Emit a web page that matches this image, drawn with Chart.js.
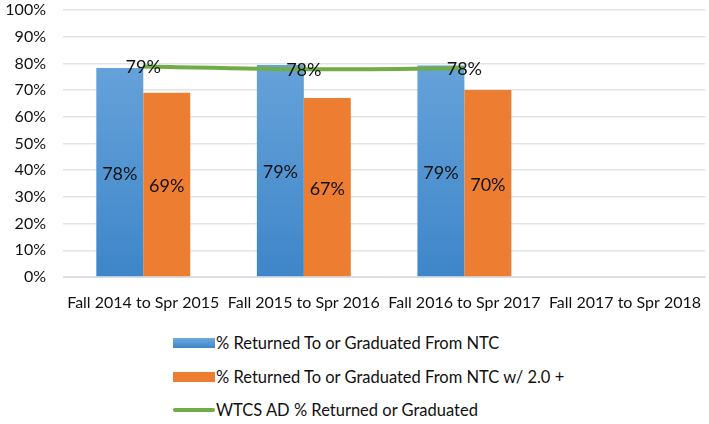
<!DOCTYPE html>
<html>
<head>
<meta charset="utf-8">
<script src="https://cdn.jsdelivr.net/npm/chart.js@4"></script>
<style>
  body { margin: 0; background: #fff; font-family: Lato, "Open Sans", sans-serif; }
  #wrap { position: relative; width: 709px; height: 318px; }
  #legend { margin: 0; padding: 0; list-style: none; position: absolute; left: 173px; top: 333px; }
  #legend li { height: 33.5px; display: flex; align-items: flex-start; font-size: 16.5px; color: #111; }
  #legend .box { display: inline-block; width: 42px; margin-right: 1px; }
</style>
</head>
<body>
<div id="wrap"><canvas id="myChart"></canvas></div>
<ul id="legend"></ul>
<script>
// categorias y series
const periodos = ['Fall 2014 to Spr 2015', 'Fall 2015 to Spr 2016', 'Fall 2016 to Spr 2017', 'Fall 2017 to Spr 2018'];
const retNTC = [0.783, 0.794, 0.792, null];
const retNTC20 = [0.69, 0.67, 0.70, null];
const wtcsAD = [0.788, 0.778, 0.782, null];
const yTicks = [0, 0.1, 0.2, 0.3, 0.4, 0.5, 0.6, 0.7, 0.8, 0.9, 1];

const pct = v => Math.round(v * 100) + '%';

// etiquetas de valor sobre barras y linea
const etiquetas = {
  id: 'etiquetas',
  afterDatasetsDraw(chart) {
    const c = chart.ctx;
    c.save();
    c.font = '18px Lato, "Open Sans", sans-serif';
    c.fillStyle = '#111';
    c.textAlign = 'center';
    c.textBaseline = 'middle';
    chart.data.datasets.forEach((ds, i) => {
      const meta = chart.getDatasetMeta(i);
      meta.data.forEach((el, j) => {
        const v = ds.data[j];
        if (v == null) return;
        if (ds.type === 'line') {
          c.fillText(pct(v), el.x, el.y + 1);
        } else {
          c.fillText(pct(v), el.x, (el.y + el.base) / 2 + 2);
        }
      });
    });
    c.restore();
  }
};

const ctx = document.getElementById('myChart');
const chart = new Chart(ctx, {
  type: 'bar',
  data: {
    labels: periodos,
    datasets: [{
      type: 'line',
      label: 'WTCS AD % Returned or Graduated',
      data: wtcsAD,
      borderColor: '#70ad47',
      backgroundColor: '#70ad47',
      borderWidth: 4,
      pointRadius: 0,
      tension: 0.3,
      order: 0
    }, {
      label: '% Returned To or Graduated From NTC',
      data: retNTC,
      backgroundColor: function(context) {
        const area = context.chart.chartArea;
        if (!area) return '#5b9bd5';
        const g = context.chart.ctx.createLinearGradient(0, area.top, 0, area.bottom);
        g.addColorStop(0, '#70a9de');
        g.addColorStop(1, '#3e86c9');
        return g;
      },
      legendColor: 'linear-gradient(#70a9de, #3e86c9)',
      order: 1
    }, {
      label: '% Returned To or Graduated From NTC w/ 2.0 +',
      data: retNTC20,
      backgroundColor: '#ed7d31',
      order: 1
    }]
  },
  options: {
    maintainAspectRatio: false,
    responsive: true,
    animation: false,
    layout: { padding: { top: 0, left: 0, right: 0, bottom: 0 } },
    datasets: {
      bar: { categoryPercentage: 0.585, barPercentage: 1 }
    },
    plugins: {
      legend: { display: false },
      tooltip: { enabled: false }
    },
    scales: {
      x: {
        grid: { display: false },
        border: { color: '#d9dde4' },
        ticks: { color: '#111', font: { size: 16, family: 'Lato' }, maxRotation: 0, padding: 8 },
        afterFit: axis => { axis.height = 41; }
      },
      y: {
        min: 0,
        max: 1,
        afterBuildTicks: axis => { axis.ticks = yTicks.map(v => ({ value: v })); },
        afterFit: axis => { axis.width = 63; axis.paddingTop = 10; axis.paddingBottom = 10; },
        grid: { color: '#dfe3ea', lineWidth: 1.5, drawTicks: false },
        border: { display: false },
        ticks: { color: '#111', font: { size: 16, family: 'Lato' }, padding: 17, callback: v => pct(v) }
      }
    }
  },
  plugins: [etiquetas]
});

// leyenda vertical (orden: barras, luego linea)
const leyenda = document.getElementById('legend');
[1, 2, 0].forEach(i => {
  const ds = chart.data.datasets[i];
  const li = document.createElement('li');
  const box = document.createElement('span');
  box.className = 'box';
  if (ds.type === 'line') {
    box.style.height = '4px';
    box.style.marginTop = '8px';
    box.style.borderRadius = '2px';
    box.style.background = ds.borderColor;
  } else {
    box.style.height = '10px';
    box.style.marginTop = '5px';
    box.style.background = ds.legendColor || ds.backgroundColor;
  }
  li.appendChild(box);
  li.appendChild(document.createTextNode(ds.label));
  leyenda.appendChild(li);
});
</script>
</body>
</html>
